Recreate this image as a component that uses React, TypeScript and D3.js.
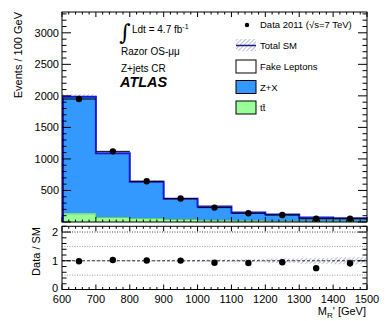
import React, { useEffect, useRef } from "react";
import * as d3 from "d3";

// bins in M_R' [GeV]
const binLow = [600, 700, 800, 900, 1000, 1100, 1200, 1300, 1400];
const binWidth = 100;

// stacked backgrounds (events / 100 GeV)
const ttbarVals = [130, 70, 55, 40, 28, 18, 12, 8, 6];
const fakeVals = [8, 5, 4, 3, 2, 2, 1, 1, 1];
const zxVals = [1847, 1015, 581, 327, 215, 130, 105, 61, 51];
// relative uncertainty on total SM
const systFrac = [0.02, 0.025, 0.03, 0.035, 0.04, 0.05, 0.08, 0.1, 0.12];

// data 2011
const dataVals = [1950, 1120, 645, 372, 228, 138, 112, 52, 53];

const yTicksTop = [500, 1000, 1500, 2000, 2500, 3000];
const yTicksRatio = [0, 1, 2];
const xTicks = [600, 700, 800, 900, 1000, 1100, 1200, 1300, 1400, 1500];

const FONT = "'Liberation Sans', Arial, Helvetica, sans-serif";

const App = () => {
  const svgRef = useRef<SVGSVGElement>(null);

  useEffect(() => {
    const svg = d3.select(svgRef.current);
    svg.selectAll("*").remove();

    const x = d3.scaleLinear().domain([600, 1500]).range([62, 367]);
    const y = d3.scaleLinear().domain([0, 3330]).range([222, 12]);
    const yr = d3.scaleLinear().domain([0, 2.2]).range([289.5, 226.3]);

    const defs = svg.append("defs");
    const pat = defs
      .append("pattern")
      .attr("id", "hatch")
      .attr("patternUnits", "userSpaceOnUse")
      .attr("width", 3)
      .attr("height", 3)
      .attr("patternTransform", "rotate(45)");
    pat
      .append("line")
      .attr("x1", 0)
      .attr("y1", 0)
      .attr("x2", 0)
      .attr("y2", 3)
      .attr("stroke", "#5b5ba8")
      .attr("stroke-width", 0.8);

    const bins = binLow.map((lo, i) => {
      const t = ttbarVals[i];
      const f = fakeVals[i];
      const z = zxVals[i];
      const tot = t + f + z;
      return { lo, hi: lo + binWidth, t, f, z, tot, d: dataVals[i], s: systFrac[i] };
    });
    // repeat last bin at the right edge so step curves close at 1500
    const edgePts = [...bins, { ...bins[bins.length - 1], lo: 1500 }];

    // ---------- upper panel ----------
    const top = svg.append("g");

    const stepArea = (lo: (b: any) => number, hi: (b: any) => number) =>
      d3
        .area<any>()
        .x((b) => x(b.lo))
        .y0((b) => y(lo(b)))
        .y1((b) => y(hi(b)))
        .curve(d3.curveStepAfter)(edgePts) || "";

    top.append("path").attr("d", stepArea((b) => b.t + b.f, (b) => b.tot)).attr("fill", "#3399ff");
    top.append("path").attr("d", stepArea((b) => b.t, (b) => b.t + b.f)).attr("fill", "#ffffff");
    top.append("path").attr("d", stepArea(() => 0, (b) => b.t)).attr("fill", "#99ff99");
    top
      .append("path")
      .attr(
        "d",
        d3
          .line<any>()
          .x((b) => x(b.lo))
          .y((b) => y(b.t))
          .curve(d3.curveStepAfter)(edgePts) || ""
      )
      .attr("fill", "none")
      .attr("stroke", "#44bb44")
      .attr("stroke-width", 0.8);
    // syst band
    top
      .append("path")
      .attr("d", stepArea((b) => b.tot * (1 - b.s), (b) => b.tot * (1 + b.s)))
      .attr("fill", "url(#hatch)");

    // total SM outline
    top
      .append("path")
      .attr(
        "d",
        d3
          .line<any>()
          .x((b) => x(b.lo))
          .y((b) => y(b.tot))
          .curve(d3.curveStepAfter)(edgePts) || ""
      )
      .attr("fill", "none")
      .attr("stroke", "#1a1ad0")
      .attr("stroke-width", 2);
    top
      .append("line")
      .attr("x1", x(600) + 1)
      .attr("x2", x(600) + 1)
      .attr("y1", y(0))
      .attr("y2", y(bins[0].tot))
      .attr("stroke", "#1a1ad0")
      .attr("stroke-width", 2);

    // data points
    bins.forEach((b) => {
      const cx = x(b.lo + binWidth / 2);
      const err = Math.sqrt(b.d);
      top
        .append("line")
        .attr("x1", x(b.lo))
        .attr("x2", x(b.hi))
        .attr("y1", y(b.d))
        .attr("y2", y(b.d))
        .attr("stroke", "#000")
        .attr("stroke-width", 1);
      top
        .append("line")
        .attr("x1", cx)
        .attr("x2", cx)
        .attr("y1", y(b.d + err))
        .attr("y2", y(b.d - err))
        .attr("stroke", "#000")
        .attr("stroke-width", 1);
      top.append("circle").attr("cx", cx).attr("cy", y(b.d)).attr("r", 3.2).attr("fill", "#000");
    });

    // frame & ticks (upper)
    const frame = (g: any, yy: any, y0: number, y1: number) => {
      g.append("rect")
        .attr("x", x(600))
        .attr("y", yy(y1))
        .attr("width", x(1500) - x(600))
        .attr("height", yy(y0) - yy(y1))
        .attr("fill", "none")
        .attr("stroke", "#000")
        .attr("stroke-width", 1);
    };
    frame(top, y, 0, 3330);

    const xMinor = d3.range(600, 1501, 20);
    const xTickLines = (g: any, yBot: number, yTop: number, maj: number, min: number) => {
      xMinor.forEach((v) => {
        const L = v % 100 === 0 ? maj : min;
        g.append("line").attr("x1", x(v)).attr("x2", x(v)).attr("y1", yBot).attr("y2", yBot - L).attr("stroke", "#000");
        g.append("line").attr("x1", x(v)).attr("x2", x(v)).attr("y1", yTop).attr("y2", yTop + L).attr("stroke", "#000");
      });
    };
    xTickLines(top, y(0), y(3330), 5, 2.5);

    d3.range(0, 3331, 100).forEach((v) => {
      const L = v % 500 === 0 ? 9 : 4.5;
      top.append("line").attr("x1", x(600)).attr("x2", x(600) + L).attr("y1", y(v)).attr("y2", y(v)).attr("stroke", "#000");
      top.append("line").attr("x1", x(1500)).attr("x2", x(1500) - L).attr("y1", y(v)).attr("y2", y(v)).attr("stroke", "#000");
    });
    yTicksTop.forEach((v) => {
      top
        .append("text")
        .attr("x", x(600) - 3)
        .attr("y", y(v) + 4)
        .attr("text-anchor", "end")
        .style("font-size", "11px")
        .text(v);
    });
    top
      .append("text")
      .attr("transform", `translate(22,12) rotate(-90)`)
      .attr("text-anchor", "end")
      .style("font-size", "11px")
      .text("Events / 100 GeV");

    // labels
    top
      .append("text")
      .attr("x", 119)
      .attr("y", 40)
      .style("font-size", "22px")
      .style("font-family", "'DejaVu Serif', serif")
      .text("∫");
    const lum = top.append("text").attr("x", 132).attr("y", 33).style("font-size", "10px");
    lum.append("tspan").text("Ldt = 4.7 fb");
    lum.append("tspan").attr("dy", -4).style("font-size", "7px").text("-1");
    top.append("text").attr("x", 121).attr("y", 55).style("font-size", "10px").text("Razor OS-μμ");
    top.append("text").attr("x", 121).attr("y", 72).style("font-size", "10px").text("Z+jets CR");
    top
      .append("text")
      .attr("x", 120)
      .attr("y", 87)
      .style("font-size", "14.5px")
      .style("font-weight", "bold")
      .style("font-style", "italic")
      .text("ATLAS");

    // legend
    const lx = 236;
    const lw = 20;
    const tx = 260;
    top.append("circle").attr("cx", 247).attr("cy", 25).attr("r", 2.2).attr("fill", "#000");
    const dt = top.append("text").attr("x", tx).attr("y", 28).style("font-size", "9.5px");
    dt.append("tspan").text("Data 2011 (");
    dt.append("tspan").text("√s=7 TeV)");
    top.append("rect").attr("x", lx).attr("y", 39).attr("width", lw).attr("height", 12).attr("fill", "url(#hatch)");
    top.append("line").attr("x1", lx).attr("x2", lx + lw).attr("y1", 45.5).attr("y2", 45.5).attr("stroke", "#1a1a80").attr("stroke-width", 1.5);
    top.append("text").attr("x", tx).attr("y", 49).style("font-size", "9.5px").text("Total SM");

    const boxes = [
      { y: 60, fill: "#ffffff", label: "Fake Leptons" },
      { y: 80.5, fill: "#3399ff", label: "Z+X" },
      { y: 101, fill: "#99ff99", label: "tt̄" },
    ];
    boxes.forEach((bx) => {
      top
        .append("rect")
        .attr("x", lx)
        .attr("y", bx.y)
        .attr("width", lw)
        .attr("height", 13)
        .attr("fill", bx.fill)
        .attr("stroke", "#000")
        .attr("stroke-width", 1);
      top
        .append("text")
        .attr("x", tx)
        .attr("y", bx.y + 10)
        .style("font-size", "9.5px")
        .text(bx.label);
    });

    // ---------- ratio panel ----------
    const bot = svg.append("g");
    [0.5, 1.5].forEach((v) => {
      bot
        .append("line")
        .attr("x1", x(600))
        .attr("x2", x(1500))
        .attr("y1", yr(v))
        .attr("y2", yr(v))
        .attr("stroke", "#999")
        .attr("stroke-dasharray", "1,1.5");
    });
    bot
      .append("line")
      .attr("x1", x(600))
      .attr("x2", x(1500))
      .attr("y1", yr(2))
      .attr("y2", yr(2))
      .attr("stroke", "#444")
      .attr("stroke-dasharray", "1,1.5");
    bot
      .append("path")
      .attr(
        "d",
        d3
          .area<any>()
          .x((b) => x(b.lo))
          .y0((b) => yr(1 - b.s))
          .y1((b) => yr(1 + b.s))
          .curve(d3.curveStepAfter)(edgePts) || ""
      )
      .attr("fill", "url(#hatch)");
    bot
      .append("line")
      .attr("x1", x(600))
      .attr("x2", x(1500))
      .attr("y1", yr(1))
      .attr("y2", yr(1))
      .attr("stroke", "#000")
      .attr("stroke-width", 0.8)
      .attr("stroke-dasharray", "3,2");

    bins.forEach((b) => {
      const r = b.d / b.tot;
      const e = Math.sqrt(b.d) / b.tot;
      const cx = x(b.lo + binWidth / 2);
      bot.append("line").attr("x1", cx).attr("x2", cx).attr("y1", yr(r + e)).attr("y2", yr(r - e)).attr("stroke", "#000");
      bot.append("circle").attr("cx", cx).attr("cy", yr(r)).attr("r", 3.2).attr("fill", "#000");
    });

    frame(bot, yr, 0, 2.2);
    xTickLines(bot, yr(0), yr(2.2), 5, 2.5);
    d3.range(0, 2.21, 0.2).forEach((v, i) => {
      const L = i % 5 === 0 ? 9 : 4.5;
      bot.append("line").attr("x1", x(600)).attr("x2", x(600) + L).attr("y1", yr(v)).attr("y2", yr(v)).attr("stroke", "#000");
      bot.append("line").attr("x1", x(1500)).attr("x2", x(1500) - L).attr("y1", yr(v)).attr("y2", yr(v)).attr("stroke", "#000");
    });
    yTicksRatio.forEach((v) => {
      bot
        .append("text")
        .attr("x", x(600) - 4)
        .attr("y", yr(v) + (v === 0 ? 2 : 4))
        .attr("text-anchor", "end")
        .style("font-size", "11px")
        .text(v);
    });
    xTicks.forEach((v) => {
      bot
        .append("text")
        .attr("x", x(v))
        .attr("y", 303)
        .attr("text-anchor", "middle")
        .style("font-size", "11px")
        .text(v);
    });
    bot
      .append("text")
      .attr("transform", `translate(40,227) rotate(-90)`)
      .attr("text-anchor", "end")
      .style("font-size", "11px")
      .text("Data / SM");

    const xt = bot.append("text").attr("x", 366).attr("y", 315).attr("text-anchor", "end").style("font-size", "11px");
    xt.append("tspan").text("M");
    xt.append("tspan").attr("dy", 3).style("font-size", "8px").text("R");
    xt.append("tspan").attr("dy", -3).text("' [GeV]");
  }, []);

  return (
    <svg
      ref={svgRef}
      width={390}
      height={321}
      style={{ position: "absolute", left: 0, top: 0, fontFamily: FONT, background: "#fff" }}
    />
  );
};

export default App;
